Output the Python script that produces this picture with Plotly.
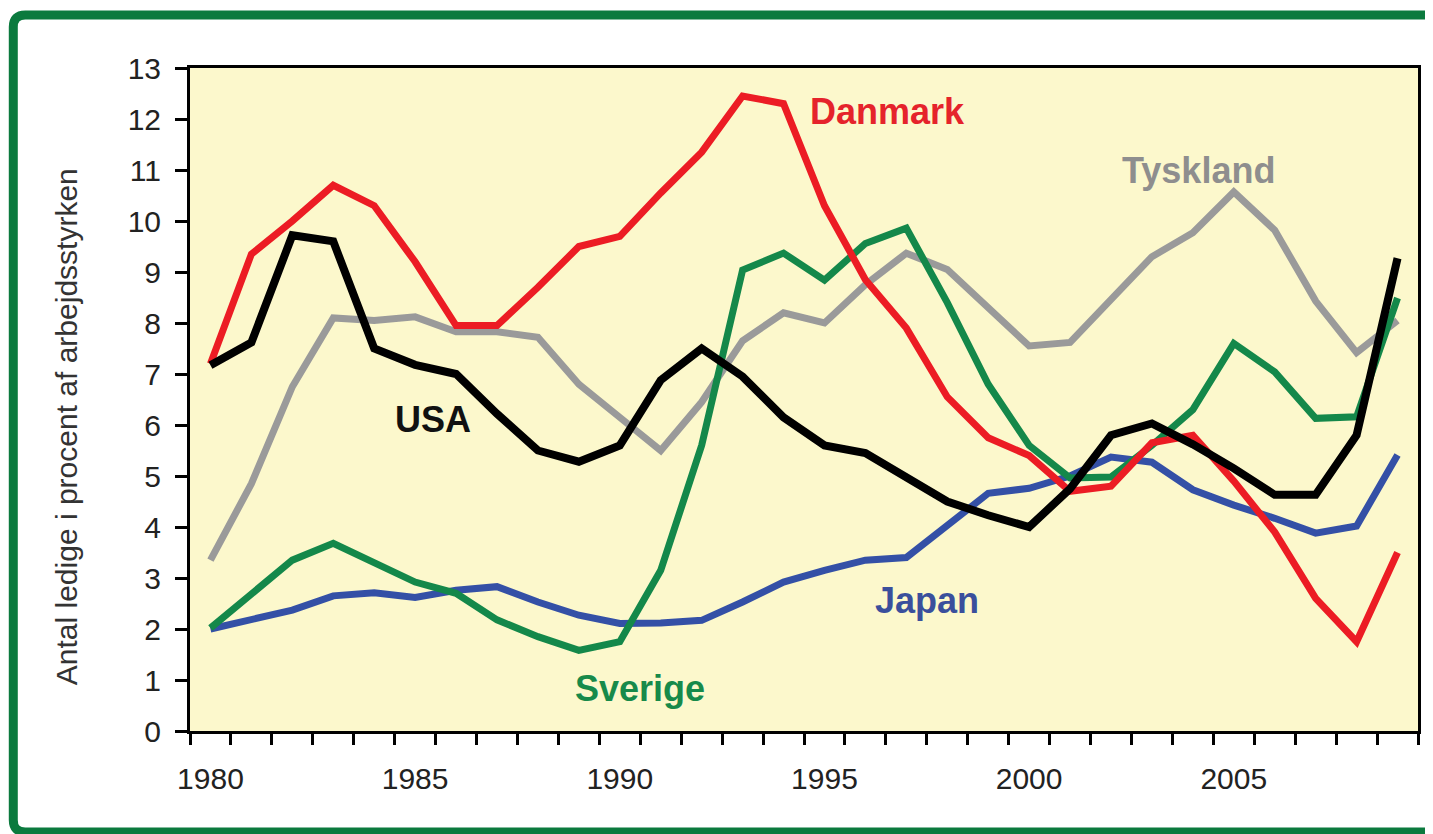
import plotly.graph_objects as go

# Arbejdsløshed 1980-2009, procent af arbejdsstyrken
years = list(range(1980, 2010))
danmark = [7.2, 9.35, 10.0, 10.7, 10.3, 9.2, 7.95, 7.95, 8.7, 9.5, 9.7, 10.55, 11.35, 12.45, 12.3,
           10.3, 8.85, 7.9, 6.55, 5.75, 5.4, 4.7, 4.8, 5.65, 5.8, 4.9, 3.9, 2.6, 1.75, 3.5]
tyskland = [3.35, 4.85, 6.75, 8.1, 8.05, 8.12, 7.83, 7.83, 7.72, 6.8, 6.15, 5.5, 6.45, 7.65, 8.2,
            8.0, 8.75, 9.37, 9.05, 8.3, 7.55, 7.62, 8.45, 9.3, 9.77, 10.57, 9.82, 8.43, 7.42, 8.05]
usa = [7.17, 7.62, 9.72, 9.6, 7.5, 7.18, 7.0, 6.22, 5.5, 5.28, 5.6, 6.88, 7.5, 6.95, 6.15,
       5.6, 5.45, 4.98, 4.5, 4.23, 4.0, 4.75, 5.8, 6.03, 5.62, 5.15, 4.63, 4.63, 5.8, 9.27]
sverige = [2.02, 2.7, 3.35, 3.68, 3.3, 2.92, 2.7, 2.18, 1.85, 1.58, 1.75, 3.15, 5.6, 9.04, 9.37,
           8.84, 9.56, 9.86, 8.4, 6.8, 5.6, 4.96, 4.98, 5.6, 6.3, 7.6, 7.04, 6.13, 6.16, 8.49]
japan = [2.0, 2.2, 2.37, 2.65, 2.71, 2.62, 2.76, 2.83, 2.53, 2.27, 2.11, 2.12, 2.17, 2.53, 2.92,
         3.15, 3.35, 3.4, 4.05, 4.66, 4.76, 5.0, 5.37, 5.27, 4.73, 4.43, 4.17, 3.88, 4.02, 5.41]

year_labels = [1980, 1985, 1990, 1995, 2000, 2005]

FONT = "Liberation Sans, Arial, sans-serif"
# siden har 8px body-margin, så figuren er 8px mindre og forskudt
W, H = 1425, 826
L, R, T, B = 182, 13, 60, 103

# serie: (navn, data, farve, linjebredde, label-position, tekstfarve)
series = [
    ("Tyskland", tyskland, "#9a9a9a", 7, (2004.13, 11.0), "#8e8e8e"),
    ("Japan", japan, "#3450a6", 7, (1997.5, 2.55), "#3a4f9c"),
    ("Sverige", sverige, "#14884a", 7, (1990.5, 0.84), "#178a4a"),
    ("Danmark", danmark, "#ec1c24", 7, (1996.55, 12.14), "#e5232b"),
    ("USA", usa, "#000000", 8, (1985.43, 6.1), "#111111"),
]

fig = go.Figure()
for name, vals, color, lw, pos, tcol in series:
    fig.add_trace(go.Scatter(x=years, y=vals, name=name, mode="lines",
                             line=dict(color=color, width=lw)))
    fig.add_annotation(x=pos[0], y=pos[1], text="<b>%s</b>" % name, showarrow=False,
                       xanchor="center", yanchor="middle",
                       font=dict(family=FONT, size=36, color=tcol))

pw, ph = W - L - R, H - T - B


def px(x):
    return (x - 8 - L) / pw


def py(y):
    return (H - B - (y - 8)) / ph


# y-akse titel
fig.add_annotation(xref="paper", yref="paper", x=px(66), y=py(427),
                   xanchor="center", yanchor="middle",
                   text="Antal ledige i procent af arbejdsstyrken", textangle=-90,
                   showarrow=False, font=dict(family=FONT, size=30, color="#333333"))

# grøn ramme med afrundet hjørne
x0, x1, y0, y1 = px(13), px(1450), py(832), py(15)
rx, ry = 12 / pw, 12 / ph
path = (f"M {x0},{y1 - ry} L {x0},{y0 + ry} Q {x0},{y0} {x0 + rx},{y0} "
        f"L {x1},{y0} L {x1},{y1} L {x0 + rx},{y1} Q {x0},{y1} {x0},{y1 - ry} Z")
fig.add_shape(type="path", path=path, xref="paper", yref="paper",
              line=dict(color="#0b7a3e", width=9), layer="above")

fig.update_layout(
    width=W, height=H, showlegend=False,
    margin=dict(l=L, r=R, t=T, b=B),
    paper_bgcolor="white", plot_bgcolor="#fcf8cc",
    font=dict(family=FONT, size=30, color="#222222"),
)
fig.update_xaxes(range=[1979.5, 2009.5], tickmode="array", tickvals=year_labels,
                 ticks="", ticklabelstandoff=19, showgrid=False, zeroline=False,
                 showline=True, linecolor="black", linewidth=3, mirror=True,
                 minor=dict(tickmode="linear", tick0=1979.5, dtick=1, ticks="outside",
                            ticklen=11, tickwidth=3, tickcolor="black", showgrid=False))
fig.update_yaxes(range=[0, 13], dtick=1, ticks="outside", ticklen=12, tickwidth=3,
                 tickcolor="black", ticklabelstandoff=8, showgrid=False, zeroline=False,
                 showline=True, linecolor="black", linewidth=3, mirror=True)

fig.write_html("out.html")
